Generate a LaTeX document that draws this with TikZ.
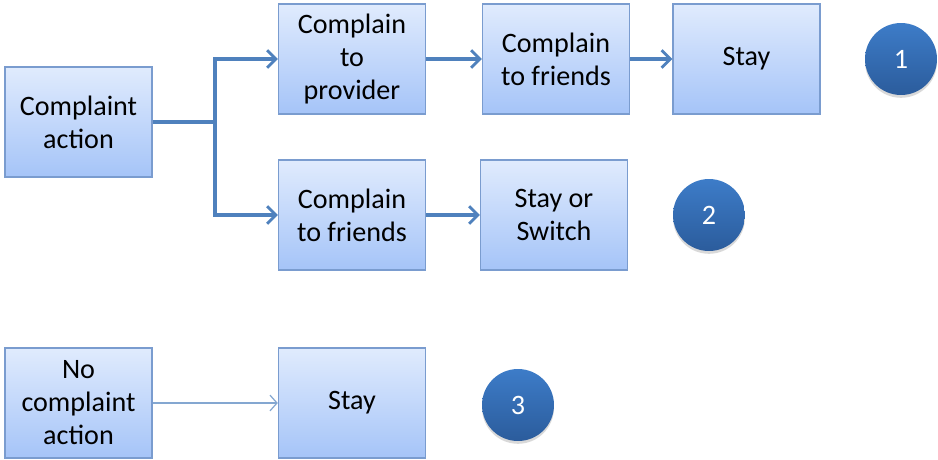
\documentclass[tikz,border=0pt]{standalone}
\usepackage{fontspec}
\setmainfont{Carlito}
\usetikzlibrary{arrows.meta, shadows}

\definecolor{boxTop}{HTML}{E0EBFD}
\definecolor{boxBottom}{HTML}{A5C4F8}
\definecolor{boxBorder}{HTML}{7A9CCF}
\definecolor{lineBlue}{HTML}{4F81BD}
\definecolor{circTop}{HTML}{3D7CC8}
\definecolor{circBottom}{HTML}{2B5C9C}

\tikzset{
    flowBox/.style={draw=boxBorder, line width=0.8pt, top color=boxTop, bottom color=boxBottom,
        minimum width=2.94cm, minimum height=2.2cm, inner sep=2pt, align=center,
        font=\fontsize{16}{18.8}\selectfont,
        drop shadow={shadow xshift=0.4pt, shadow yshift=-0.8pt, opacity=0.25}},
    numCircle/.style={circle, minimum size=1.44cm, inner sep=0pt, top color=circTop, bottom color=circBottom,
        text=white, font=\fontsize{16}{18.8}\selectfont,
        drop shadow={shadow xshift=0pt, shadow yshift=-1.6pt, opacity=0.3}},
    thickLine/.style={draw=lineBlue, line width=1.8pt},
    thickArrow/.style={thickLine, -{Straight Barb[length=5pt, width=10pt, line width=1.6pt]}},
    thinArrow/.style={draw=lineBlue!70, line width=0.7pt, -{Straight Barb[length=4pt, width=9pt, line width=0.7pt]}}
}

\begin{document}
\begin{tikzpicture}[x=0.02cm, y=-0.02cm]
\useasboundingbox (0,0) rectangle (938,460);

% upper branch
\node[flowBox] (ComplaintAction) at (78.5,122) {Complaint\\action};
\node[flowBox] (ToProvider) at (352,59) {Complain\\to\\provider};
\node[flowBox] (FriendsA) at (556,59) {Complain\\to friends};
\node[flowBox] (StayA) at (746.5,59) {Stay};

% middle branch
\node[flowBox] (FriendsB) at (352,215) {Complain\\to friends};
\node[flowBox] (StayOrSwitch) at (554,215) {Stay or\\Switch};

% lower branch
\node[flowBox] (NoComplaint) at (78.5,403) {No\\complaint\\action};
\node[flowBox] (StayC) at (352,403) {Stay};

% numbers
\foreach \n/\cx/\cy in {1/901/59, 2/709/215, 3/518/405}
{
    \node[numCircle] (Num\n) at (\cx,\cy) {\n};
}

\coordinate (split) at (215,122);
\draw[thickLine] (ComplaintAction.east) -- (split);
\draw[thickArrow] (split) |- (ToProvider.west);
\draw[thickArrow] (split) |- (FriendsB.west);
\draw[thickArrow] (ToProvider.east) -- (FriendsA.west);
\draw[thickArrow] (FriendsA.east) -- (StayA.west);
\draw[thickArrow] (FriendsB.east) -- (StayOrSwitch.west);
\draw[thinArrow] (NoComplaint.east) -- (StayC.west);
\end{tikzpicture}
\end{document}
